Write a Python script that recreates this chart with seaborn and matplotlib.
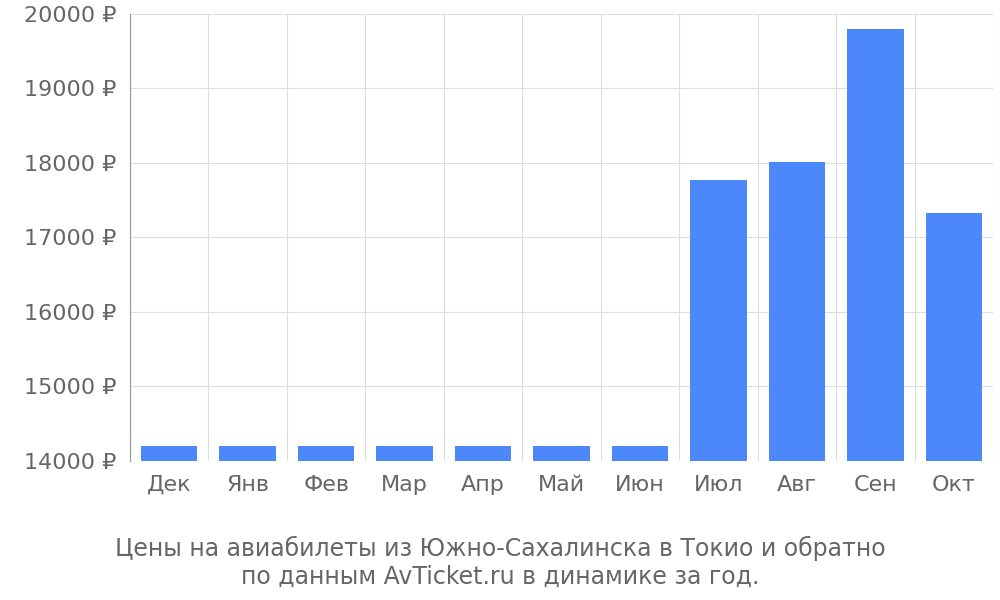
import matplotlib
matplotlib.use("Agg")
import matplotlib.pyplot as plt
import seaborn as sns
import pandas as pd

months = ["Дек", "Янв", "Фев", "Мар", "Апр", "Май", "Июн", "Июл", "Авг", "Сен", "Окт"]
prices = [14200, 14200, 14200, 14200, 14200, 14200, 14200, 17770, 18010, 19790, 17320]
yticks = [14000, 15000, 16000, 17000, 18000, 19000, 20000]
caption = "Цены на авиабилеты из Южно-Сахалинска в Токио и обратно\nпо данным AvTicket.ru в динамике за год."

sns.set_style("white")
plt.rcParams['font.family'] = ['DejaVu Sans']
df = pd.DataFrame({"m": months, "p": prices})

fig = plt.figure(figsize=(10, 6), dpi=100)
ax = fig.add_axes([0.13, 0.232, 0.863, 0.745])
sns.barplot(data=df, x="m", y="p", color="#4d88fb", saturation=1, width=0.72, ax=ax,
            zorder=3, linewidth=0)
ax.set_ylim(14000, 20000)
ax.set_yticks(yticks)
ax.set_yticklabels([f"{v} ₽" for v in yticks], color="#666666", fontsize=16)
ax.set_xlim(-0.5, len(months) - 0.5)
ax.set_xticks(range(len(months)))
ax.set_xticklabels(months, color="#666666", fontsize=16)
ax.set_xticks([i - 0.5 for i in range(len(months) + 1)], minor=True)
ax.tick_params(axis="x", which="major", length=0, pad=10)
ax.tick_params(axis="x", which="minor", length=18, color="#cccccc")
ax.tick_params(axis="y", length=6, color="#cccccc", pad=4)
ax.grid(True, axis="y", color="#dddddd", zorder=0)
ax.grid(True, axis="x", which="minor", color="#dddddd", zorder=0)
for s in ["top", "right", "bottom"]:
    ax.spines[s].set_visible(False)
ax.spines["left"].set_color("#999999")
ax.set_xlabel("")
ax.set_ylabel("")
fig.text(0.5, 0.063, caption, ha="center", va="center", color="#666666", fontsize=17, linespacing=1.2)
fig.savefig("out.png", dpi=100)
